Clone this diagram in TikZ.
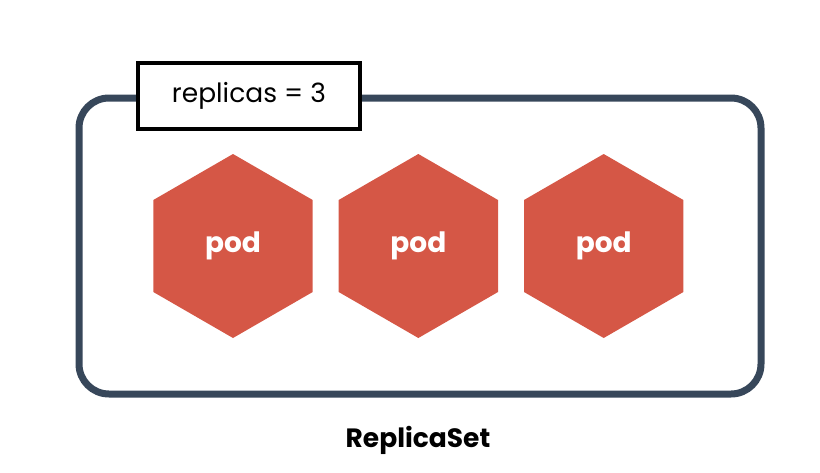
\documentclass[tikz,border=0pt]{standalone}
\usepackage{fontspec}
\setmainfont{Poppins}
\usetikzlibrary{shapes.geometric,positioning}
\definecolor{frameslate}{RGB}{55,71,90}
\definecolor{podred}{RGB}{213,87,70}
\begin{document}
\begin{tikzpicture}[x=1pt,y=-1pt,node distance=26pt,
    pod/.style={regular polygon,regular polygon sides=6,shape border rotate=30,
        minimum size=184pt,inner sep=0pt,outer sep=0pt,fill=podred,text=white,
        font=\fontsize{28}{32}\selectfont\bfseries},
    setframe/.style={draw=frameslate,line width=7pt,rounded corners=30pt},
    countbox/.style={draw=black,line width=3.5pt,fill=white,minimum width=222pt,
        minimum height=66pt,inner sep=0pt,font=\fontsize{26.5}{30}\selectfont}]
    \useasboundingbox (0,0) rectangle (820,472);
    \draw[setframe] (79,98) rectangle (761,394);
    \node[countbox] (count) at (249,96) {replicas = 3};
    \node[pod] (p1) at (233,246) {pod};
    \node[pod] (p2) [right=of p1] {pod};
    \node[pod] (p3) [right=of p2] {pod};
    \node[font=\fontsize{26.5}{30}\selectfont\bfseries] (name) at (418,440) {ReplicaSet};
\end{tikzpicture}
\end{document}
